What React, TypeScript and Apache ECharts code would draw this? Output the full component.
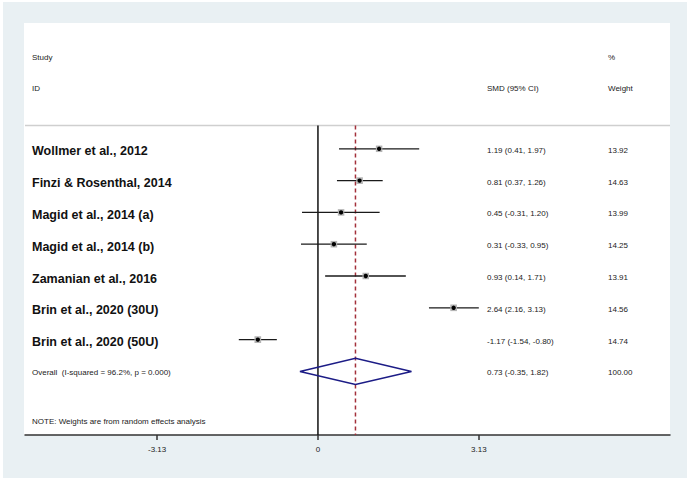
import React, { useEffect, useRef } from "react";
import * as echarts from "echarts";

const studies = [
  "Wollmer et al., 2012",
  "Finzi & Rosenthal, 2014",
  "Magid et al., 2014 (a)",
  "Magid et al., 2014 (b)",
  "Zamanian et al., 2016",
  "Brin et al., 2020 (30U)",
  "Brin et al., 2020 (50U)",
];
const smd = [1.19, 0.81, 0.45, 0.31, 0.93, 2.64, -1.17];
const lower = [0.41, 0.37, -0.31, -0.33, 0.14, 2.16, -1.54];
const upper = [1.97, 1.26, 1.2, 0.95, 1.71, 3.13, -0.8];
const weights = [13.92, 14.63, 13.99, 14.25, 13.91, 14.56, 14.74];
const smdText = [
  "1.19 (0.41, 1.97)",
  "0.81 (0.37, 1.26)",
  "0.45 (-0.31, 1.20)",
  "0.31 (-0.33, 0.95)",
  "0.93 (0.14, 1.71)",
  "2.64 (2.16, 3.13)",
  "-1.17 (-1.54, -0.80)",
];
const weightText = ["13.92", "14.63", "13.99", "14.25", "13.91", "14.56", "14.74"];

const overallLabel = "Overall  (I-squared = 96.2%, p = 0.000)";
const overallEst = 0.73;
const overallLower = -0.35;
const overallUpper = 1.82;
const overallText = "0.73 (-0.35, 1.82)";
const overallWeight = "100.00";

const xTicks = [-3.13, 0, 3.13];

const FONT = "Arial, 'Liberation Sans', Helvetica, sans-serif";

export default function App() {
  const ref = useRef<HTMLDivElement>(null);
  useEffect(() => {
    if (!ref.current) return;
    const chart = echarts.init(ref.current, null, { renderer: "svg" });

    const studyData = smd.map((v, i) => [v, lower[i], upper[i], weights[i], i + 1]);
    const overallRow = studies.length + 1;

    const option: any = {
      animation: false,
      backgroundColor: "#ffffff",
      grid: { left: 25, right: 20, top: 117, bottom: 46 },
      xAxis: {
        type: "value",
        position: "bottom",
        min: -5.7,
        max: 6.85,
        splitLine: { show: false },
        axisLine: { show: true, onZero: false, lineStyle: { color: "#333", width: 1.5 } },
        axisTick: {
          show: true,
          inside: false,
          length: 5,
          customValues: xTicks,
          lineStyle: { color: "#333", width: 1.5 },
        },
        axisLabel: {
          customValues: xTicks,
          color: "#222",
          fontSize: 8,
          fontFamily: FONT,
          margin: 10,
          formatter: (v: number) => (v === 0 ? "0" : v.toFixed(2)),
        },
      },
      yAxis: {
        type: "value",
        inverse: true,
        min: 0,
        max: 10,
        show: false,
      },
      graphic: [
        {
          type: "rect",
          z: -10,
          silent: true,
          shape: { x: 3, y: 2, width: 684, height: 476 },
          style: { fill: "#e9f0f3" },
        },
        {
          type: "rect",
          z: -9,
          silent: true,
          shape: { x: 24, y: 23, width: 646, height: 412 },
          style: { fill: "#ffffff" },
        },
        {
          type: "line",
          z: -8,
          silent: true,
          shape: { x1: 25, y1: 125.5, x2: 670, y2: 125.5 },
          style: { stroke: "#cfcfcf", lineWidth: 1.5 },
        },
        {
          type: "text",
          x: 32,
          y: 57,
          style: { text: "Study", font: `8px ${FONT}`, fill: "#222", verticalAlign: "middle" },
        },
        {
          type: "text",
          x: 32,
          y: 88,
          style: { text: "ID", font: `8px ${FONT}`, fill: "#222", verticalAlign: "middle" },
        },
        {
          type: "text",
          x: 487,
          y: 88,
          style: { text: "SMD (95% CI)", font: `8px ${FONT}`, fill: "#222", verticalAlign: "middle" },
        },
        {
          type: "text",
          x: 608,
          y: 57,
          style: { text: "%", font: `8px ${FONT}`, fill: "#222", verticalAlign: "middle" },
        },
        {
          type: "text",
          x: 608,
          y: 88,
          style: { text: "Weight", font: `8px ${FONT}`, fill: "#222", verticalAlign: "middle" },
        },
        {
          type: "text",
          x: 32,
          y: 421,
          style: {
            text: "NOTE: Weights are from random effects analysis",
            font: `8px ${FONT}`,
            fill: "#222",
            verticalAlign: "middle",
          },
        },
      ],
      series: [
        {
          type: "line",
          data: [
            [0, 0.27],
            [0, 10],
          ],
          symbol: "none",
          silent: true,
          z: 1,
          lineStyle: { color: "#111", width: 1.5 },
        },
        {
          type: "line",
          data: [
            [overallEst, 0.27],
            [overallEst, 10],
          ],
          symbol: "none",
          silent: true,
          z: 1,
          lineStyle: { color: "#a3303a", width: 1.5, type: [4, 3] },
        },
        {
          type: "custom",
          z: 3,
          silent: true,
          data: studyData,
          renderItem: (params: any, api: any) => {
            const i = params.dataIndex;
            const est = api.value(0);
            const lo = api.value(1);
            const hi = api.value(2);
            const w = api.value(3);
            const row = api.value(4);
            const pLo = api.coord([lo, row]);
            const pHi = api.coord([hi, row]);
            const pE = api.coord([est, row]);
            const side = 6.5 * Math.sqrt(w / 14);
            return {
              type: "group",
              children: [
                {
                  type: "line",
                  shape: { x1: pLo[0], y1: pLo[1], x2: pHi[0], y2: pHi[1] },
                  style: { stroke: "#1a1a1a", lineWidth: 1.3 },
                },
                {
                  type: "rect",
                  shape: { x: pE[0] - side / 2, y: pE[1] - side / 2, width: side, height: side },
                  style: { fill: "#b4b4b4" },
                },
                {
                  type: "circle",
                  shape: { cx: pE[0], cy: pE[1], r: 2.2 },
                  style: { fill: "#000" },
                },
                {
                  type: "text",
                  x: 32,
                  y: pE[1] + 2.5,
                  style: {
                    text: studies[i],
                    font: `bold 12.5px ${FONT}`,
                    fill: "#111",
                    verticalAlign: "middle",
                  },
                },
                {
                  type: "text",
                  x: 487,
                  y: pE[1] + 1.5,
                  style: { text: smdText[i], font: `8px ${FONT}`, fill: "#222", verticalAlign: "middle" },
                },
                {
                  type: "text",
                  x: 608,
                  y: pE[1] + 1.5,
                  style: { text: weightText[i], font: `8px ${FONT}`, fill: "#222", verticalAlign: "middle" },
                },
              ],
            };
          },
        },
        {
          type: "custom",
          z: 2,
          silent: true,
          data: [[overallEst, overallLower, overallUpper, overallRow]],
          renderItem: (params: any, api: any) => {
            const est = api.value(0);
            const lo = api.value(1);
            const hi = api.value(2);
            const row = api.value(3);
            const pL = api.coord([lo, row]);
            const pR = api.coord([hi, row]);
            const pT = api.coord([est, row - 0.41]);
            const pB = api.coord([est, row + 0.41]);
            return {
              type: "group",
              children: [
                {
                  type: "polygon",
                  shape: { points: [pL, pT, pR, pB] },
                  style: { fill: "none", stroke: "#1c1c86", lineWidth: 1.5 },
                },
                {
                  type: "text",
                  x: 32,
                  y: pL[1] + 1,
                  style: { text: overallLabel, font: `8px ${FONT}`, fill: "#222", verticalAlign: "middle" },
                },
                {
                  type: "text",
                  x: 487,
                  y: pL[1] + 1,
                  style: { text: overallText, font: `8px ${FONT}`, fill: "#222", verticalAlign: "middle" },
                },
                {
                  type: "text",
                  x: 608,
                  y: pL[1] + 1,
                  style: { text: overallWeight, font: `8px ${FONT}`, fill: "#222", verticalAlign: "middle" },
                },
              ],
            };
          },
        },
      ],
    };
    chart.setOption(option);
    return () => chart.dispose();
  }, []);
  return (
    <div
      ref={ref}
      style={{ position: "fixed", left: 0, top: 0, width: 690, height: 481 }}
    />
  );
}
